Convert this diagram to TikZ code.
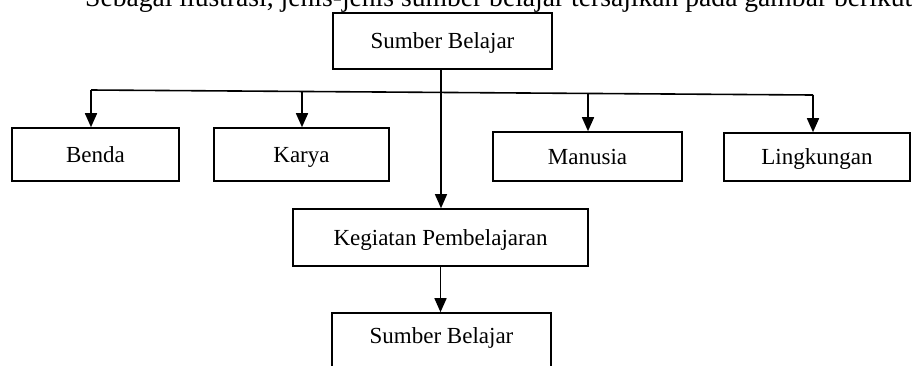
\documentclass[tikz,border=0pt]{standalone}
\usepackage{fontspec}
\setmainfont{Liberation Serif}
\usetikzlibrary{arrows.meta,calc}
\begin{document}
\begin{tikzpicture}[x=1pt,y=-1pt,
  box/.style={draw,line width=1.6pt,rectangle,inner sep=0pt,text height=15.2pt,text depth=0pt,font=\fontsize{23pt}{27pt}\selectfont},
  conn/.style={line width=1.6pt},
  arr/.style={line width=1.6pt,-{Triangle[width=12pt,length=14pt]}}]
\useasboundingbox (0,0) rectangle (912,365);
\clip (0,0) rectangle (912,365);
\node[anchor=base west,inner sep=0pt,font=\fontsize{27.6pt}{31pt}\selectfont] (intro) at (85,6) {Sebagai ilustrasi, jenis-jenis sumber belajar tersajikan pada gambar berikut:};
\node[box,minimum width=219pt,minimum height=56pt] (top) at (442.5,41) {Sumber Belajar};
\node[box,minimum width=167pt,minimum height=53pt] (benda) at (95.5,154.5) {Benda};
\node[box,minimum width=175pt,minimum height=53pt] (karya) at (301.5,154.5) {Karya};
\node[box,minimum width=189pt,minimum height=49pt] (manusia) at (587.5,156.5) {Manusia};
\node[box,minimum width=186pt,minimum height=48pt] (lingkungan) at (817,157) {Lingkungan};
\node[box,minimum width=295pt,minimum height=57pt] (kegiatan) at (440.5,237.5) {Kegiatan Pembelajaran};
\node[box,minimum width=219pt,minimum height=60pt] (bottom) at (441.5,343) {\raisebox{7pt}{Sumber Belajar}};
\coordinate (hl) at (91,90);
\coordinate (hk) at (302,91.5);
\coordinate (hm) at (588,93.5);
\coordinate (hr) at (813,95);
\draw[conn] (hl) -- (hr);
\draw[arr] (hl) -- (hl |- benda.north);
\draw[arr] (hk) -- (hk |- karya.north);
\draw[arr] (hm) -- (hm |- manusia.north);
\draw[arr] (hr) -- (hr |- lingkungan.north);
\draw[line width=1.2pt,-{Triangle[width=12pt,length=14pt]}] ([xshift=-1.5pt]top.south) -- ([xshift=-1.5pt]top.south |- kegiatan.north);
\draw[arr] (kegiatan.south) -- (kegiatan.south |- bottom.north);
\end{tikzpicture}
\end{document}
